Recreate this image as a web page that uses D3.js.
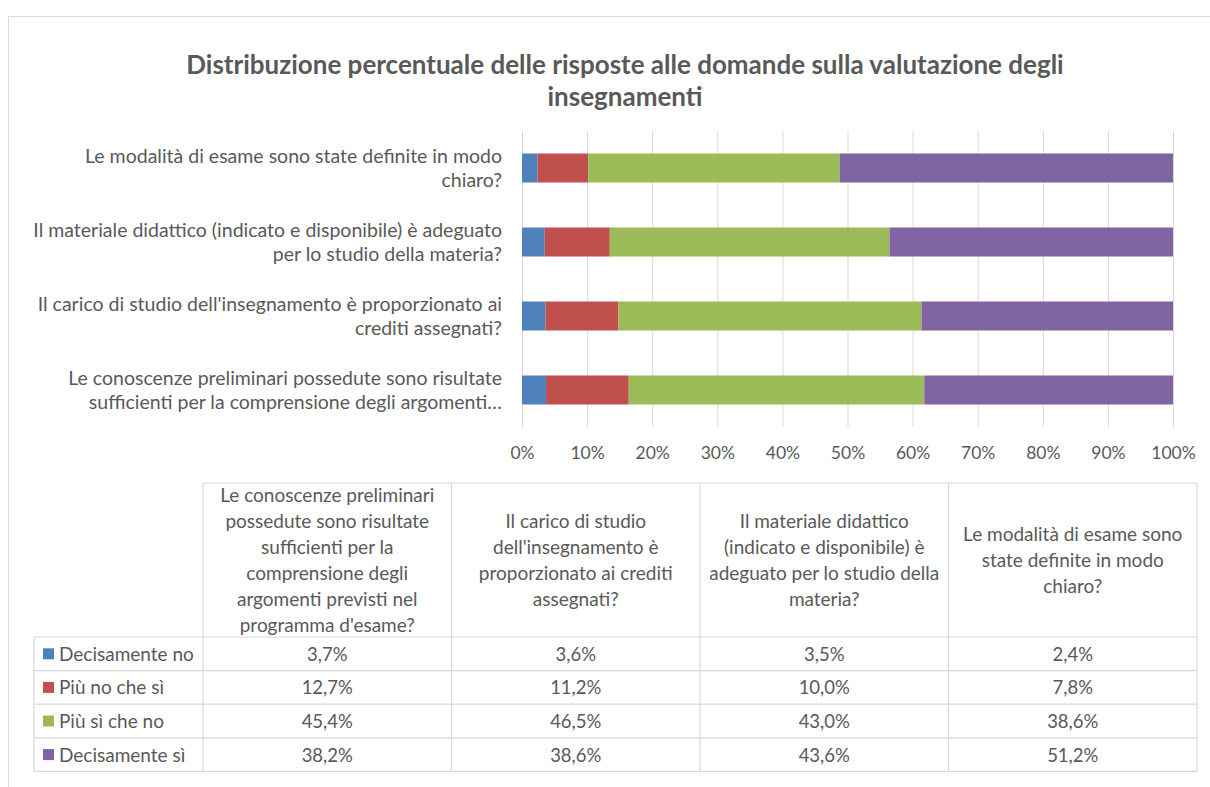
<!DOCTYPE html>
<html>
<head>
<meta charset="utf-8">
<script src="https://cdn.jsdelivr.net/npm/d3@7"></script>
<style>
  body { margin: 0; background: #fff; }
  text { font-family: Lato, "Open Sans", sans-serif; fill: #595959; }
</style>
</head>
<body>
<div id="chart"></div>
<script>
// data, in table column order
var categories = ["conoscenze", "carico", "materiale", "modalita"];
var decisamenteNo = [3.7, 3.6, 3.5, 2.4];
var piuNoCheSi = [12.7, 11.2, 10.0, 7.8];
var piuSiCheNo = [45.4, 46.5, 43.0, 38.6];
var decisamenteSi = [38.2, 38.6, 43.6, 51.2];
var seriesNames = ["Decisamente no", "Più no che sì", "Più sì che no", "Decisamente sì"];
var colors = ["#4F81BD", "#C0504D", "#9BBB59", "#8064A2"];
var tickValues = [0, 0.1, 0.2, 0.3, 0.4, 0.5, 0.6, 0.7, 0.8, 0.9, 1];

// wrapped text as it appears on the chart
var axisLabels = {
  conoscenze: ["Le conoscenze preliminari possedute sono risultate", "sufficienti per la comprensione degli argomenti…"],
  carico: ["Il carico di studio dell'insegnamento è proporzionato ai", "crediti assegnati?"],
  materiale: ["Il materiale didattico (indicato e disponibile) è adeguato", "per lo studio della materia?"],
  modalita: ["Le modalità di esame sono state definite in modo", "chiaro?"]
};
var headerLabels = {
  conoscenze: ["Le conoscenze preliminari", "possedute sono risultate", "sufficienti per la", "comprensione degli", "argomenti previsti nel", "programma d'esame?"],
  carico: ["Il carico di studio", "dell'insegnamento è", "proporzionato ai crediti", "assegnati?"],
  materiale: ["Il materiale didattico", "(indicato e disponibile) è", "adeguato per lo studio della", "materia?"],
  modalita: ["Le modalità di esame sono", "state definite in modo", "chiaro?"]
};

var allSeries = [decisamenteNo, piuNoCheSi, piuSiCheNo, decisamenteSi];
var rows = categories.map(function (c, i) {
  var r = { cat: c };
  seriesNames.forEach(function (s, j) { r[s] = allSeries[j][i]; });
  return r;
});

var W = 1210, H = 787;
var svg = d3.select("#chart").append("svg")
    .attr("width", W)
    .attr("height", H);

// chart frame
svg.append("rect")
    .attr("x", 8.5).attr("y", 16.5)
    .attr("width", 1400).attr("height", 1000)
    .attr("fill", "#fff")
    .attr("stroke", "#d9d9d9");

// title
var title = svg.append("text")
    .attr("text-anchor", "middle")
    .attr("font-size", 26)
    .attr("font-weight", "bold");
title.append("tspan").attr("x", 625).attr("y", 74)
    .text("Distribuzione percentuale delle risposte alle domande sulla valutazione degli");
title.append("tspan").attr("x", 625).attr("y", 106)
    .text("insegnamenti");

// scales
var x = d3.scaleLinear().domain([0, 1]).range([522, 1173]);
var y = d3.scaleBand()
    .domain(categories.slice().reverse())
    .range([131, 427])
    .paddingInner(0.608)
    .paddingOuter(0.304);

// gridlines + tick labels
var xAxis = svg.append("g")
    .attr("transform", "translate(0,427)")
    .call(d3.axisBottom(x)
        .tickValues(tickValues)
        .tickFormat(d3.format(".0%"))
        .tickSize(-(427 - 131))
        .tickPadding(20));
xAxis.select(".domain").remove();
xAxis.selectAll(".tick line").attr("stroke", "#d9d9d9");
xAxis.selectAll(".tick text")
    .attr("font-size", 17.5)
    .attr("font-family", "Lato, sans-serif")
    .attr("fill", "#595959");

// stacked bars
var stack = d3.stack().keys(seriesNames).offset(d3.stackOffsetExpand);
var stacked = stack(rows);

svg.append("g").selectAll("g")
  .data(stacked)
  .join("g")
    .attr("fill", function (d, i) { return colors[i]; })
  .selectAll("rect")
  .data(function (d) { return d; })
  .join("rect")
    .attr("x", function (d) { return x(d[0]); })
    .attr("y", function (d) { return y(d.data.cat); })
    .attr("width", function (d) { return x(d[1]) - x(d[0]); })
    .attr("height", y.bandwidth());

// category labels
var catG = svg.append("g").selectAll("text")
  .data(categories)
  .join("text")
    .attr("text-anchor", "end")
    .attr("font-size", 19.5);
catG.each(function (c) {
  var t = d3.select(this);
  var cy = y(c) + y.bandwidth() / 2;
  axisLabels[c].forEach(function (line, i) {
    t.append("tspan")
      .attr("x", 502)
      .attr("y", cy - 12 + i * 24 + 7)
      .text(line);
  });
});

// data table
var col = d3.scaleBand().domain(categories).range([203, 1197]);
var headTop = 483, headBottom = 637, rowH = 33.6;
var tRow = d3.scaleBand().domain(seriesNames).range([headBottom, headBottom + rowH * 4]);
var legendLeft = 34;
var tableBottom = headBottom + rowH * 4;
var table = svg.append("g").attr("stroke", "#d9d9d9").attr("stroke-width", 1.2);

// horizontal lines
table.append("line").attr("x1", 203).attr("x2", 1197).attr("y1", headTop).attr("y2", headTop);
seriesNames.concat(["end"]).forEach(function (s, i) {
  var yy = headBottom + i * rowH;
  table.append("line").attr("x1", legendLeft).attr("x2", 1197).attr("y1", yy).attr("y2", yy);
});
// vertical lines
table.append("line").attr("x1", legendLeft).attr("x2", legendLeft).attr("y1", headBottom).attr("y2", tableBottom);
categories.forEach(function (c) {
  table.append("line").attr("x1", col(c)).attr("x2", col(c)).attr("y1", headTop).attr("y2", tableBottom);
});
table.append("line").attr("x1", 1197).attr("x2", 1197).attr("y1", headTop).attr("y2", tableBottom);

// header text
var headMid = (headTop + headBottom) / 2;
categories.forEach(function (c) {
  var lines = headerLabels[c];
  var t = svg.append("text").attr("text-anchor", "middle").attr("font-size", 19);
  lines.forEach(function (line, i) {
    t.append("tspan")
      .attr("x", col(c) + col.bandwidth() / 2)
      .attr("y", headMid + (i - (lines.length - 1) / 2) * 26 + 7)
      .text(line);
  });
});

// legend column
seriesNames.forEach(function (s, i) {
  var cy = tRow(s) + tRow.bandwidth() / 2;
  svg.append("rect")
    .attr("x", 43).attr("y", cy - 5.5)
    .attr("width", 11).attr("height", 11)
    .attr("fill", colors[i]);
  svg.append("text")
    .attr("x", 59).attr("y", cy + 7)
    .attr("font-size", 19)
    .text(s);
});

// values
var fmt = function (v) { return d3.format(".1f")(v).replace(".", ",") + "%"; };
seriesNames.forEach(function (s, i) {
  var cy = tRow(s) + tRow.bandwidth() / 2;
  categories.forEach(function (c, j) {
    svg.append("text")
      .attr("x", col(c) + col.bandwidth() / 2)
      .attr("y", cy + 7)
      .attr("text-anchor", "middle")
      .attr("font-size", 18.5)
      .text(fmt(allSeries[i][j]));
  });
});
</script>
</body>
</html>
